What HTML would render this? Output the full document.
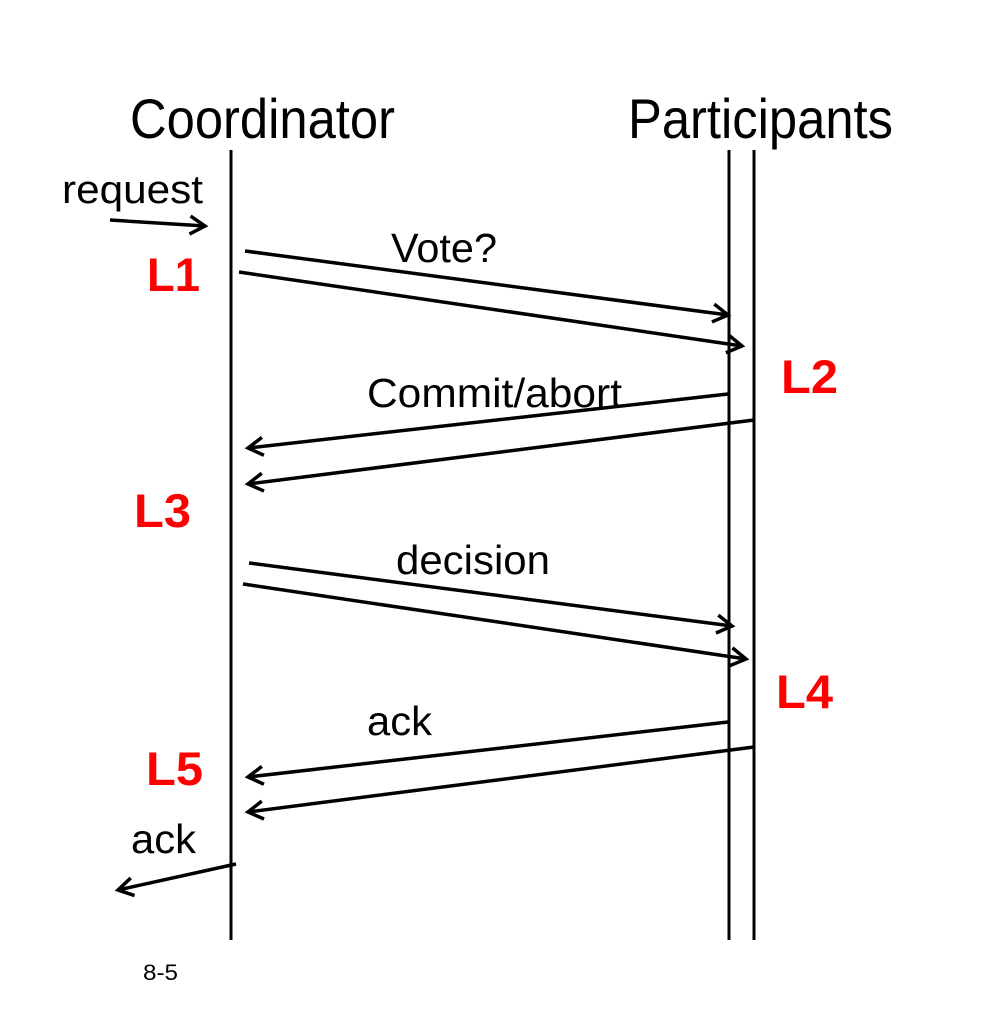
<!DOCTYPE html>
<html><head><meta charset="utf-8"><style>html,body{margin:0;padding:0;background:#fff}svg{display:block}</style></head>
<body>
<svg width="1000" height="1024" viewBox="0 0 1000 1024" xmlns="http://www.w3.org/2000/svg" font-family="Liberation Sans, Arial, sans-serif">
<defs>
<marker id="a" viewBox="0 0 24 24" refX="20" refY="12" markerWidth="24" markerHeight="24" markerUnits="userSpaceOnUse" orient="auto">
<path d="M5,3 L20,12 L5,21" fill="none" stroke="#000" stroke-width="3.5"/>
</marker>
</defs>
<g stroke="#000" stroke-width="3" fill="none">
<line x1="231" y1="150" x2="231" y2="940"/>
<line x1="729" y1="150" x2="729" y2="940"/>
<line x1="754" y1="150" x2="754" y2="940"/>
</g>
<g stroke="#000" stroke-width="3.5" fill="none" marker-end="url(#a)">
<line x1="110" y1="220" x2="205" y2="226"/>
<line x1="245" y1="251" x2="728" y2="315"/>
<line x1="239" y1="272" x2="742" y2="346"/>
<line x1="728" y1="394" x2="248" y2="448"/>
<line x1="754" y1="420" x2="248" y2="484"/>
<line x1="249" y1="563" x2="732" y2="626"/>
<line x1="243" y1="584" x2="746" y2="659"/>
<line x1="728" y1="722" x2="248" y2="777"/>
<line x1="754" y1="747" x2="248" y2="812"/>
<line x1="236" y1="864" x2="118" y2="890"/>
</g>
<g fill="#000">
<text x="130" y="138" font-size="56" textLength="265" lengthAdjust="spacingAndGlyphs">Coordinator</text>
<text x="628" y="138" font-size="56" textLength="265" lengthAdjust="spacingAndGlyphs">Participants</text>
<text x="62" y="203" font-size="40" textLength="141" lengthAdjust="spacingAndGlyphs">request</text>
<text x="391" y="262" font-size="41" textLength="106" lengthAdjust="spacingAndGlyphs">Vote?</text>
<text x="367" y="407" font-size="41" textLength="255" lengthAdjust="spacingAndGlyphs">Commit/abort</text>
<text x="396" y="574" font-size="41" textLength="154" lengthAdjust="spacingAndGlyphs">decision</text>
<text x="367" y="735" font-size="41" textLength="65" lengthAdjust="spacingAndGlyphs">ack</text>
<text x="131" y="853" font-size="41" textLength="65" lengthAdjust="spacingAndGlyphs">ack</text>
<text x="143" y="980" font-size="22" textLength="35" lengthAdjust="spacingAndGlyphs">8-5</text>
</g>
<g fill="#f00" font-weight="bold" font-size="47">
<text x="147" y="291" textLength="53" lengthAdjust="spacingAndGlyphs">L1</text>
<text x="781" y="393" textLength="57" lengthAdjust="spacingAndGlyphs">L2</text>
<text x="134" y="527" textLength="57" lengthAdjust="spacingAndGlyphs">L3</text>
<text x="776" y="708" textLength="57" lengthAdjust="spacingAndGlyphs">L4</text>
<text x="146" y="785" textLength="57" lengthAdjust="spacingAndGlyphs">L5</text>
</g>
</svg>
</body></html>
